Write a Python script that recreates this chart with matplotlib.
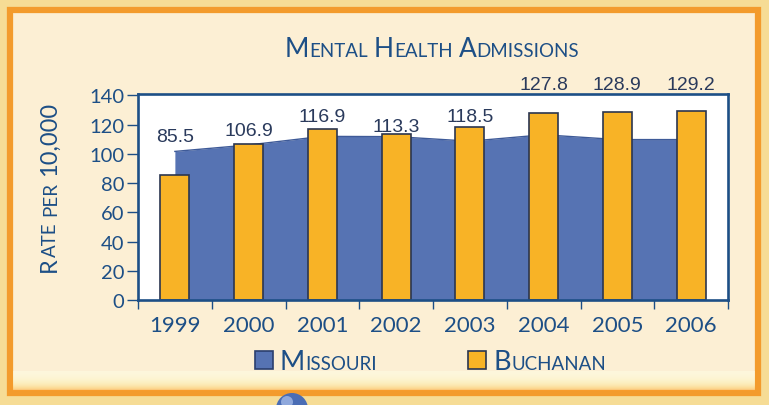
import matplotlib
matplotlib.use('Agg')
import matplotlib.pyplot as plt
import numpy as np
from matplotlib.patches import Rectangle, Circle

# data
years = ['1999', '2000', '2001', '2002', '2003', '2004', '2005', '2006']
missouri = [101.7, 106.1, 112.0, 111.8, 108.7, 113.1, 109.8, 109.8]
buchanan = [85.5, 106.9, 116.9, 113.3, 118.5, 127.8, 128.9, 129.2]
# where the value labels sit (data units, baseline)
label_y = [108.7, 113.2, 122.6, 115.5, 122.3, 144.5, 144.5, 144.5]

W, H = 769, 406
navy = '#1d4f86'
blue = '#5673b3'
gold = '#f8b326'

fig = plt.figure(figsize=(W / 100, H / 100), dpi=100)
fig.patch.set_facecolor('#f6dc95')

# background frame, in pixel coords
bg = fig.add_axes([0, 0, 1, 1], zorder=-5)
bg.set_xlim(0, W)
bg.set_ylim(H, 0)
bg.axis('off')
bg.add_patch(Rectangle((10, 11), 748, 383, facecolor='#fcefd4',
                       edgecolor='#f39b2c', lw=4.5))
grad = np.linspace(0, 1, 50)[:, None] ** 2
bg.imshow(grad, extent=(13, 755, 392, 372), cmap='YlOrBr', vmin=0, vmax=2.0,
          alpha=0.5, aspect='auto', zorder=2)
bg.add_patch(Circle((292, 410), 16, facecolor='#4a6db5', edgecolor='none', zorder=3))
bg.add_patch(Circle((287, 403), 6, facecolor='#8fa8dc', edgecolor='none', zorder=3))

ax = fig.add_axes([138 / W, 1 - 301 / H, 590 / W, 206 / H])
x = np.arange(len(years))
ax.fill_between(x, missouri, 0, color=blue, lw=0, zorder=1)
ax.plot(x, missouri, color='#3e5a98', lw=1, zorder=1)
ax.bar(x, buchanan, width=0.39, color=gold, edgecolor='#2b3650', lw=1.2, zorder=2)

for xi, v, ly in zip(x, buchanan, label_y):
    ax.text(xi, ly, f'{v:.1f}', ha='center', va='baseline', fontsize=14,
            family='Liberation Sans', color='#2a3a5c', clip_on=False)

ax.set_xlim(-0.5, 7.5)
ax.set_ylim(0, 141)
ax.set_facecolor('white')
for s in ax.spines.values():
    s.set_color(navy)
    s.set_linewidth(1.9)

ax.set_yticks(np.arange(0, 141, 20))
ax.tick_params(axis='y', direction='out', length=8, width=1, color=navy, pad=2,
               labelsize=14.5, labelcolor=navy)
ax.set_xticks(x)
ax.set_xticklabels(years)
ax.set_xticks(np.arange(-0.5, 8, 1), minor=True)
ax.tick_params(axis='x', which='major', length=0, pad=11, labelsize=16, labelcolor=navy)
ax.tick_params(axis='x', which='minor', direction='out', length=6.5, width=1, color=navy)
for lab in ax.get_xticklabels() + ax.get_yticklabels():
    lab.set_family('Lato')

r = fig.canvas.get_renderer()


def smallcaps(x0, y0, parts, rot=0, center=True, gap=5):
    # parts: list of (text, fontsize); None in parts = word gap
    items = []
    for p in parts:
        if p is None:
            items.append(None)
            continue
        t = fig.text(0, 0, p[0], fontsize=p[1], family='Lato', color=navy,
                     rotation=rot, rotation_mode='anchor', ha='left', va='baseline')
        items.append(t)
    sizes = []
    for t in items:
        if t is None:
            sizes.append(gap)
        else:
            bb = t.get_window_extent(r)
            sizes.append(bb.width if rot == 0 else bb.height)
    total = sum(sizes)
    pos = x0 - total / 2 if (center and rot == 0) else x0
    if rot != 0:
        pos = y0 + total / 2 if center else y0
    for t, s in zip(items, sizes):
        if t is not None:
            if rot == 0:
                t.set_position((pos / W, 1 - y0 / H))
            else:
                t.set_position((x0 / W, 1 - pos / H))
        pos = pos + s if rot == 0 else pos - s


smallcaps(432, 57, [('M', 19), ('ENTAL', 13.5), None, ('H', 19), ('EALTH', 13.5), None,
                    ('A', 19), ('DMISSIONS', 13.5)], gap=6)
smallcaps(56, 187, [('R', 17), ('ATE', 13.5), None, ('PER', 13.5), None, ('10,000', 17)],
          rot=90, gap=6)

# legend
bg.add_patch(Rectangle((255, 352), 18, 18, facecolor=blue, edgecolor='#2b3f6e', lw=1.2))
bg.add_patch(Rectangle((468, 352), 18, 18, facecolor=gold, edgecolor='#2b3650', lw=1.2))
smallcaps(280, 370, [('M', 19.5), ('ISSOURI', 13.5)], center=False)
smallcaps(494, 370, [('B', 19.5), ('UCHANAN', 13.5)], center=False)

fig.savefig('out.png', dpi=100, facecolor=fig.get_facecolor())
